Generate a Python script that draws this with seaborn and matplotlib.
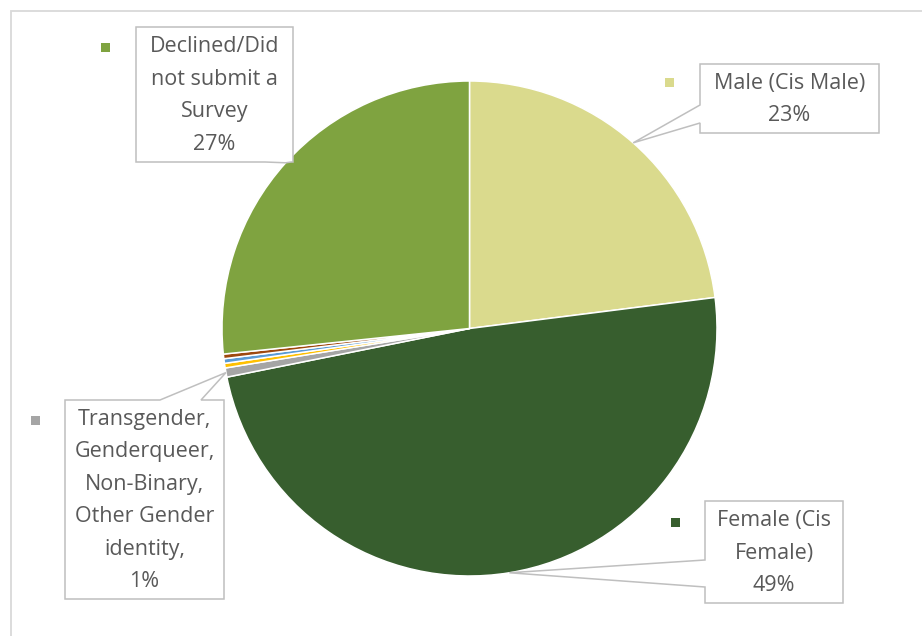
import matplotlib
matplotlib.use("Agg")
import numpy as np
import matplotlib.pyplot as plt
from matplotlib.patches import Polygon, Rectangle
from matplotlib.lines import Line2D
import seaborn as sns

# ---- data (clockwise from 12 o'clock) ----
categories = [
    "Male (Cis Male)",
    "Female (Cis\nFemale)",
    "Transgender,\nGenderqueer,\nNon-Binary,\nOther Gender\nidentity,",
    "Other (a)",
    "Other (b)",
    "Other (c)",
    "Declined/Did\nnot submit a\nSurvey",
]
shares = [23.0, 48.85, 0.6, 0.3, 0.3, 0.3, 26.65]
labelled = [True, True, True, False, False, False, True]
colors = ["#DADA8D", "#375E2E", "#A5A5A5", "#FFC000", "#5B9BD5", "#9E480E", "#7FA340"]

W, H = 922, 636
sns.set_theme(style="white")
plt.rcParams["font.family"] = ["Open Sans", "DejaVu Sans"]

fig = plt.figure(figsize=(W / 100, H / 100), dpi=100)
ax = fig.add_axes([0, 0, 1, 1])


def to_data(x, y):
    return x, H - y


# pie
cx, cy, R = 469.5, 328.5, 247.5
wedges, _ = ax.pie(
    shares, colors=colors, startangle=90, counterclock=False,
    center=to_data(cx, cy), radius=R, frame=True,
    wedgeprops=dict(edgecolor="white", linewidth=1.1),
)
ax.set_xlim(0, W)
ax.set_ylim(0, H)
ax.set_axis_off()

# chart area frame
fx, fy = 11, 11
ax.add_line(Line2D([fx, fx, W + 5], [-5, H - fy, H - fy],
                   color="#D9D9D9", lw=1.3, solid_joinstyle="miter"))

total = sum(shares)


def tip_of(w):
    mid = np.deg2rad((w.theta1 + w.theta2) / 2)
    X = w.center[0] + w.r * np.cos(mid)
    Y = w.center[1] + w.r * np.sin(mid)
    return X, H - Y


def callout(box, side, b0, b1, tip):
    x0, y0, x1, y1 = box
    pts = [(x0, y0)]
    if side == "top":
        pts += [(b0, y0), tip, (b1, y0)]
    pts.append((x1, y0))
    if side == "right":
        pts += [(x1, b0), tip, (x1, b1)]
    pts.append((x1, y1))
    if side == "bottom":
        pts += [(b1, y1), tip, (b0, y1)]
    pts.append((x0, y1))
    if side == "left":
        pts += [(x0, b1), tip, (x0, b0)]
    poly = Polygon([to_data(*p) for p in pts], closed=True, facecolor="white",
                   edgecolor="#BFBFBF", lw=1.1, joinstyle="miter", zorder=5)
    ax.add_patch(poly)


# label box layout: (box x0, y0, x1, y1), pointer side, pointer base, key square position
layout = {
    0: dict(box=(700, 64, 879, 133), side="left", base=(105, 123), key=(665, 78)),
    1: dict(box=(705, 501, 843, 603), side="left", base=(560, 587), key=(671, 518)),
    2: dict(box=(65, 400, 224, 599), side="top", base=(160, 201), key=(31, 416)),
    6: dict(box=(136, 27, 293, 162), side="bottom", base=(265, 291), key=(101, 43)),
}

line_gap = 32.5
for i, w in enumerate(wedges):
    if not labelled[i]:
        continue
    spec = layout[i]
    x0, y0, x1, y1 = spec["box"]
    callout(spec["box"], spec["side"], *spec["base"], tip_of(w))
    kx, ky = spec["key"]
    ax.add_patch(Rectangle(to_data(kx, ky + 9), 9, 9, facecolor=colors[i],
                           edgecolor="none", zorder=6))
    pct = f"{100 * shares[i] / total:.0f}%"
    lines = categories[i].split("\n") + [pct]
    n = len(lines)
    mid_y = (y0 + y1) / 2 + 1
    for k, t in enumerate(lines):
        ty = mid_y + (k - (n - 1) / 2) * line_gap
        ax.text(*to_data((x0 + x1) / 2, ty), t, ha="center", va="center",
                fontsize=15.5, color="#595959", zorder=7)

fig.savefig("out.png", dpi=100)
